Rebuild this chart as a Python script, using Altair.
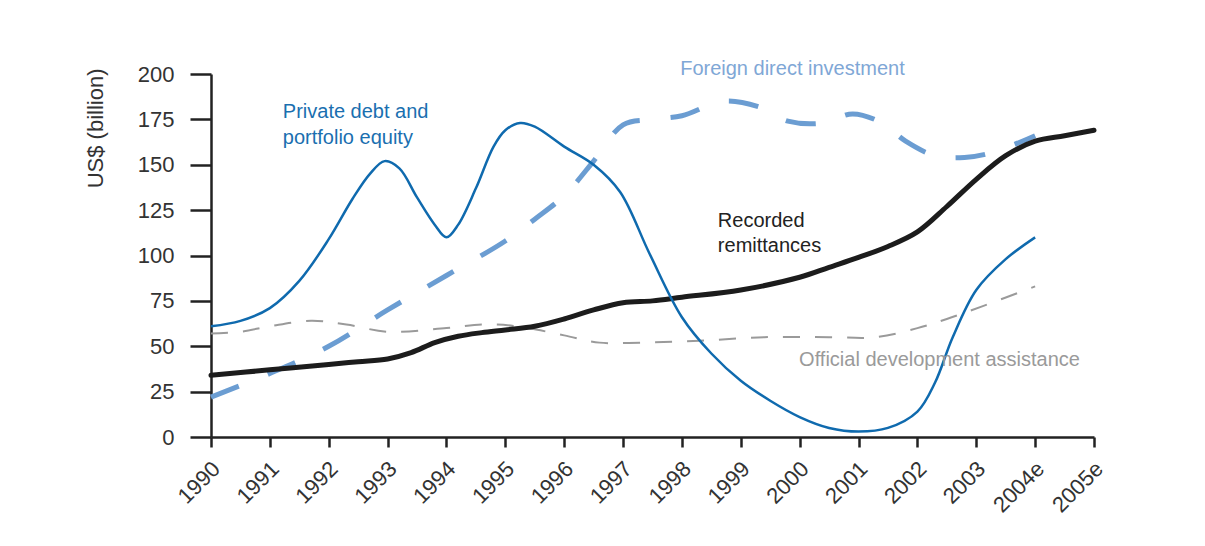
import altair as alt
import pandas as pd

# ---- data ----
pd_years = [1990, 1990.5, 1991, 1991.5, 1992, 1992.4, 1992.7, 1992.95, 1993.2, 1993.5,
            1993.8, 1994, 1994.2, 1994.5, 1994.8, 1995, 1995.25, 1995.5, 1996, 1996.5,
            1996.95, 1997.45, 1998, 1998.5, 1999, 1999.5, 2000, 2000.5, 2001, 2001.5,
            2002, 2002.3, 2002.6, 2003, 2003.5, 2004]
pd_values = [61, 64, 71, 86, 109, 131, 145, 152, 148, 132,
             117, 110, 117, 137, 160, 169, 173, 171, 160, 150,
             135, 101, 66, 46, 31, 20, 11, 5, 3, 5,
             14, 30, 55, 81, 98, 110]

fdi_years = [1990, 1991, 1992, 1993, 1994, 1995, 1995.5, 1996, 1996.5, 1997,
             1997.5, 1998, 1998.7, 1999.3, 1999.8, 2000.4, 2000.9, 2001.4, 2001.8,
             2002.3, 2002.8, 2003.3, 2004]
fdi_values = [22, 35, 50, 70, 89, 108, 120, 133, 152, 172,
              175, 177, 185, 182, 174, 173, 178, 173, 163,
              155, 154, 157, 166]

rem_years = [1990, 1991, 1992, 1992.5, 1993, 1993.4, 1993.8, 1994.2, 1994.6, 1995,
             1995.5, 1996, 1996.5, 1997, 1997.5, 1998, 1999, 2000, 2000.5, 2001,
             2001.5, 2002, 2002.5, 2003, 2003.5, 2004, 2004.5, 2005]
rem_values = [34, 37, 40, 41.5, 43, 46.5, 52, 55.5, 57.5, 59,
              61, 65, 70, 74, 75, 77, 81, 88, 93.5, 99,
              105, 113, 127, 142, 155, 163, 166, 169]

oda_years = [1990, 1990.5, 1991, 1991.7, 1992.3, 1993, 1994, 1994.6, 1995.2, 1996,
             1996.6, 1997.3, 1998.3, 1999.4, 2000.5, 2001.3, 2002, 2002.5, 2003.1, 2004]
oda_values = [57, 58, 61, 64, 62, 58, 60, 62, 61, 56,
              52, 52, 53, 55, 55, 55, 60, 65, 72, 83]

label_texts = ["Private debt and", "portfolio equity", "Foreign direct investment",
               "Recorded", "remittances", "Official development assistance"]
label_years = [1991.22, 1991.22, 1997.97, 1998.61, 1998.61, 1999.99]
label_values = [179, 165, 203, 119, 105, 42.5]
label_colors = ["#1a6fb0", "#1a6fb0", "#7fa7d6", "#222222", "#222222", "#9a9a9a"]

tick_years = list(range(1990, 2006))
y_ticks = [0, 25, 50, 75, 100, 125, 150, 175, 200]

FONT = "Liberation Sans"

def frame(years, values):
    return pd.DataFrame({"year": years, "value": values})

x_enc = alt.X("year:Q", scale=alt.Scale(domain=[1990, 2005], nice=False, zero=False),
              axis=alt.Axis(values=tick_years, format="d",
                            labelExpr="datum.value >= 2004 ? datum.label + 'e' : datum.label",
                            labelAngle=-45, labelAlign="right", labelBaseline="middle",
                            tickSize=10, labelPadding=18, labelOffset=5, title=None))
y_enc = alt.Y("value:Q", scale=alt.Scale(domain=[0, 200], nice=False),
              axis=alt.Axis(values=y_ticks, tickSize=21, labelPadding=16,
                            title="US$ (billion)", titleAngle=-90, titleAlign="right",
                            titleBaseline="middle", titleX=-116, titleY=-6,
                            titleFontSize=22, titleFontWeight="normal", titleColor="#333333"))

oda = alt.Chart(frame(oda_years, oda_values)).mark_line(
    color="#9a9a9a", strokeWidth=2, strokeDash=[17, 15], interpolate="catmull-rom"
).encode(x=x_enc, y=y_enc)

fdi = alt.Chart(frame(fdi_years, fdi_values)).mark_line(
    color="#6b9dd2", strokeWidth=5, strokeDash=[30, 31], interpolate="catmull-rom"
).encode(x=x_enc, y=y_enc)

rem = alt.Chart(frame(rem_years, rem_values)).mark_line(
    color="#1c1c1c", strokeWidth=5, interpolate="catmull-rom", strokeCap="round"
).encode(x=x_enc, y=y_enc)

pde = alt.Chart(frame(pd_years, pd_values)).mark_line(
    color="#0f6aae", strokeWidth=2.5, interpolate="catmull-rom"
).encode(x=x_enc, y=y_enc)

labels_df = pd.DataFrame({"year": label_years, "value": label_values,
                          "text": label_texts, "color": label_colors})
labels = alt.Chart(labels_df).mark_text(
    align="left", baseline="middle", font=FONT, fontSize=20, clip=False
).encode(x=alt.X("year:Q"), y=alt.Y("value:Q"), text="text:N",
         color=alt.Color("color:N", scale=None))

chart = alt.layer(oda, fdi, rem, pde, labels).properties(
    width=883, height=363,
    autosize=alt.AutoSizeParams(type="none"),
    padding={"left": 203, "top": 66, "right": 103, "bottom": 100},
    background="white",
).configure_view(stroke=None).configure_axis(
    grid=False, domainColor="#222222", domainWidth=2.5, tickColor="#222222",
    tickWidth=2.5, labelFont=FONT, labelFontSize=22, labelColor="#333333",
    titleFont=FONT
)

chart.save("out.html", embed_options={"renderer": "svg", "actions": False})
